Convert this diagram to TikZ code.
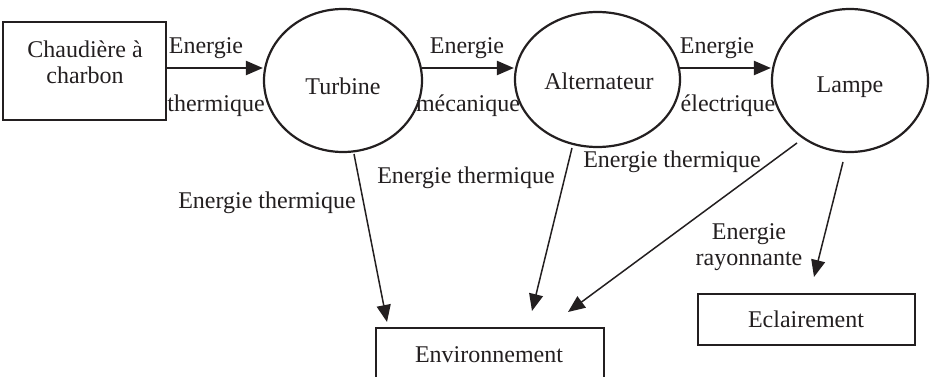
\documentclass[tikz,border=0pt]{standalone}
\usepackage{fontspec}
\setmainfont{Liberation Serif}
\usetikzlibrary{arrows.meta,shapes.geometric}
\definecolor{ink}{HTML}{231F20}
\begin{document}
\begin{tikzpicture}[x=1pt,y=-1pt,
  every node/.style={font=\fontsize{24}{28}\selectfont, text=ink, inner sep=0pt},
  box/.style={draw=ink, line width=2.2pt, rectangle},
  oval/.style={draw=ink, line width=2.2pt, ellipse},
  flow/.style={draw=ink, line width=2.2pt, -{Triangle[length=17pt,width=14pt]}},
  loss/.style={draw=ink, line width=1.5pt, -{Triangle[length=17pt,width=14pt]}}]
\useasboundingbox (0,0) rectangle (930,377);
\clip (0,0) rectangle (930,377);
% boxes
\node[box, minimum width=163pt, minimum height=98pt] (chaud) at (84.5,71) {};
\node[align=center] (chaudt) at (85,62) {Chaudière à\\[-2pt]charbon};
\node[box, minimum width=228pt, minimum height=80pt] (env) at (490,368) {};
\node (envt) at (489,355) {Environnement};
\node[box, minimum width=217pt, minimum height=51pt] (ecl) at (806.5,319.5) {};
\node (eclt) at (806,319) {Eclairement};
% ellipses
\node[oval, minimum width=158pt, minimum height=143pt] (turb) at (343,80.5) {};
\node (turbt) at (343,86) {Turbine};
\node[oval, minimum width=165pt, minimum height=135pt] (alt) at (597.5,79.5) {};
\node (altt) at (599,81) {Alternateur};
\node[oval, minimum width=156pt, minimum height=143pt] (lamp) at (850,80.5) {};
\node (lampt) at (850,87) {Lampe};
% horizontal flows
\coordinate (a1) at (167,68);
\coordinate (a2) at (422,68);
\coordinate (a3) at (680,68);
\draw[flow] (a1) -- (turb.west |- a1);
\draw[flow] (a2) -- (alt.west |- a2);
\draw[flow] (a3) -- (lamp.west |- a3);
\node (l1a) at (206,48) {Energie};
\node (l1b) at (216,106) {thermique};
\node (l2a) at (467,48) {Energie};
\node (l2b) at (468,106) {mécanique};
\node (l3a) at (717,48) {Energie};
\node (l3b) at (728,106) {électrique};
% losses
\coordinate (t1) at (354,154);
\coordinate (t2) at (387,322);
\coordinate (u1) at (572,148);
\coordinate (u2) at (532,311);
\coordinate (v1) at (797,143);
\coordinate (v2) at (568,312);
\coordinate (w1) at (843,162);
\coordinate (w2) at (814,277);
\draw[loss] (t1) -- (t2);
\draw[loss] (u1) -- (u2);
\draw[loss] (v1) -- (v2);
\draw[loss] (w1) -- (w2);
\node (lt1) at (267,203) {Energie thermique};
\node (lt2) at (466,178) {Energie thermique};
\node (lt3) at (672,162) {Energie thermique};
\node[align=center] (lr) at (749,247) {Energie\\[-2pt]rayonnante};
\end{tikzpicture}
\end{document}
